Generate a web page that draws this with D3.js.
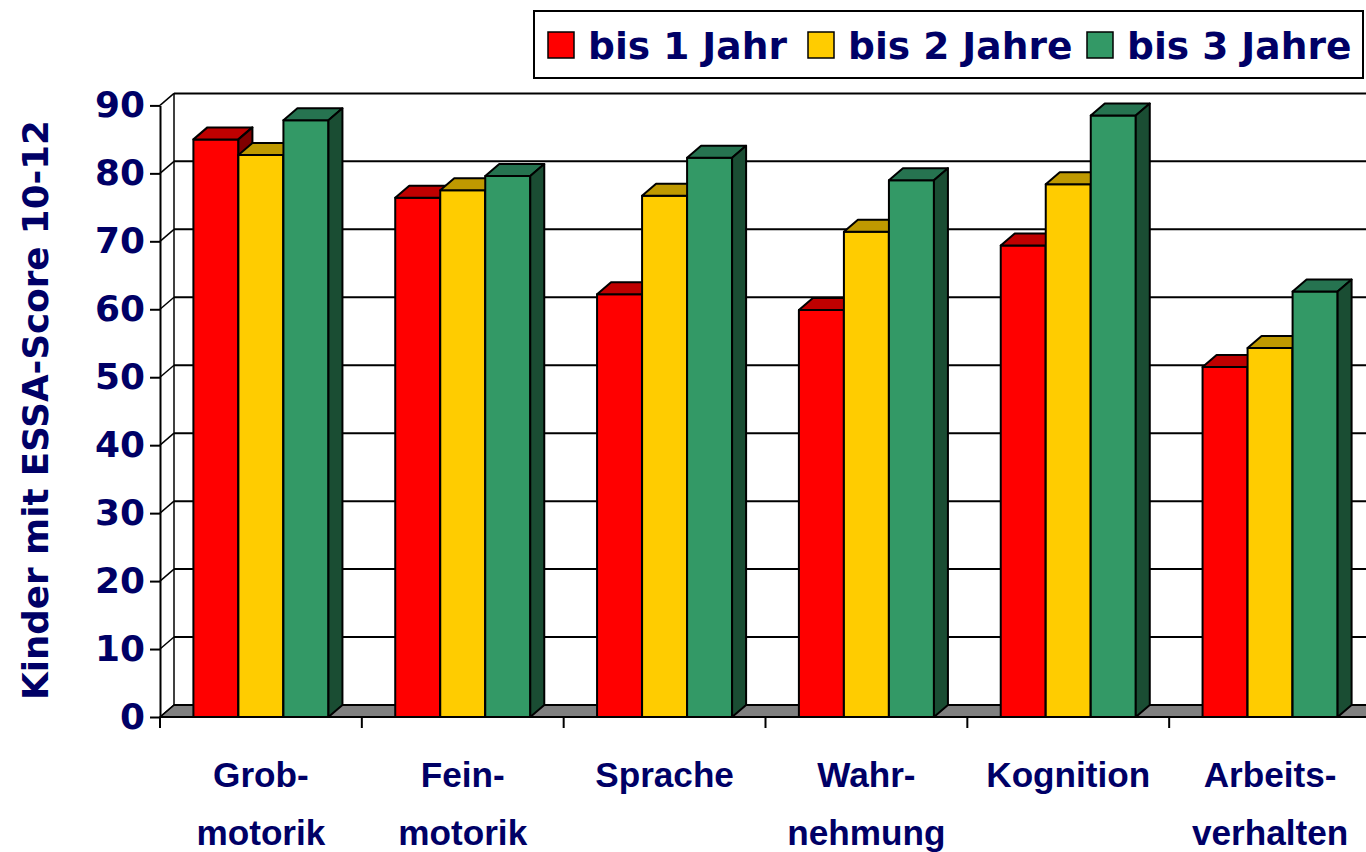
<!DOCTYPE html>
<html>
<head>
<meta charset="utf-8">
<script src="https://cdn.jsdelivr.net/npm/d3@7"></script>
<style>
  html, body { margin: 0; padding: 0; background: #fff; overflow: hidden; }
  svg { display: block; }
  text { font-family: "Comic Sans MS", "DejaVu Sans", sans-serif; font-weight: bold; fill: #000066; }
  text.xlab { font-family: "Comic Sans MS", "Liberation Sans", sans-serif; }
</style>
</head>
<body>
<svg id="chart" width="1366" height="852"></svg>
<script>
// ---- data ----
const categories = [["Grob-", "motorik"], ["Fein-", "motorik"], ["Sprache"], ["Wahr-", "nehmung"], ["Kognition"], ["Arbeits-", "verhalten"]];
const seriesNames = ["bis 1 Jahr", "bis 2 Jahre", "bis 3 Jahre"];
const bis1Jahr = [85.0, 76.4, 62.2, 59.9, 69.4, 51.5];
const bis2Jahre = [82.7, 77.5, 76.7, 71.4, 78.4, 54.3];
const bis3Jahre = [87.8, 79.6, 82.3, 79.0, 88.5, 62.6];
const yTicks = [0, 10, 20, 30, 40, 50, 60, 70, 80, 90];
const yTitle = "Kinder mit ESSA-Score 10-12";

// ---- styles ----
const seriesColors = [
  { front: "#FF0000", top: "#BF0000", side: "#800000" },
  { front: "#FFCC00", top: "#BF9900", side: "#806600" },
  { front: "#339966", top: "#267350", side: "#1A4D33" }
];
const seriesValues = [bis1Jahr, bis2Jahre, bis3Jahre];

const svg = d3.select("#chart");
const x0 = 160, xEnd = 1371;
const dx = 14, dy = 12;

const y = d3.scaleLinear().domain([0, 90]).range([717, 105.4]);
const xCat = d3.scaleBand().domain(d3.range(categories.length)).range([x0, xEnd]).paddingInner(0).paddingOuter(0);
const xSer = d3.scaleBand().domain(d3.range(seriesNames.length)).range([0, xCat.bandwidth()]).paddingInner(0).paddingOuter(0.742);

function fitText(sel, target) {
  const node = sel.node();
  sel.style("font-size", "100px");
  const w = node.getComputedTextLength();
  const fs = 100 * target / w;
  sel.style("font-size", fs + "px");
  return fs;
}

// ---- floor ----
svg.append("path")
  .attr("d", `M${x0},${y(0)} L${x0 + dx},${y(0) - dy} L${xEnd + dx},${y(0) - dy} L${xEnd},${y(0)} Z`)
  .attr("fill", "#808080").attr("stroke", "#000").attr("stroke-width", 1.5);

// ---- back wall gridlines ----
const grid = svg.append("g");
yTicks.forEach(v => {
  grid.append("line")
    .attr("x1", x0 + dx).attr("x2", xEnd + dx)
    .attr("y1", y(v) - dy).attr("y2", y(v) - dy)
    .attr("stroke", "#000").attr("stroke-width", 2);
  grid.append("line")
    .attr("x1", x0).attr("x2", x0 + dx)
    .attr("y1", y(v)).attr("y2", y(v) - dy)
    .attr("stroke", "#000").attr("stroke-width", 1.5);
});
grid.append("line")
  .attr("x1", x0 + dx).attr("x2", x0 + dx)
  .attr("y1", y(90) - dy).attr("y2", y(0) - dy)
  .attr("stroke", "#000").attr("stroke-width", 1.5);

// ---- bars ----
const bars = svg.append("g");
categories.forEach((c, ci) => {
  seriesValues.forEach((vals, si) => {
    const v = vals[ci];
    const xl = xCat(ci) + xSer(si);
    const w = xSer.bandwidth();
    const yt = y(v), yb = y(0);
    const col = seriesColors[si];
    const g = bars.append("g").attr("stroke", "#000").attr("stroke-width", 2).attr("stroke-linejoin", "round");
    g.append("rect").attr("x", xl).attr("y", yt).attr("width", w).attr("height", yb - yt).attr("fill", col.front);
    g.append("path")
      .attr("d", `M${xl},${yt} L${xl + dx},${yt - dy} L${xl + w + dx},${yt - dy} L${xl + w},${yt} Z`)
      .attr("fill", col.top);
    g.append("path")
      .attr("d", `M${xl + w},${yt} L${xl + w + dx},${yt - dy} L${xl + w + dx},${yb - dy} L${xl + w},${yb} Z`)
      .attr("fill", col.side);
  });
});

// ---- y axis ----
const yAxis = svg.append("g")
  .attr("transform", `translate(${x0},0)`)
  .call(d3.axisLeft(y).tickValues(yTicks).tickSize(10).tickSizeOuter(0).tickPadding(5));
yAxis.select(".domain").attr("stroke", "#000").attr("stroke-width", 2);
yAxis.selectAll(".tick line").attr("stroke", "#000").attr("stroke-width", 2);
const yLabels = yAxis.selectAll(".tick text").attr("fill", "#000066").attr("font-family", null);
const yfs = fitText(yAxis.select(".tick:last-of-type text"), 50);
yLabels.style("font-size", yfs + "px");

// ---- x axis ----
const xAxisG = svg.append("g");
xAxisG.append("line").attr("x1", x0).attr("x2", xEnd).attr("y1", y(0)).attr("y2", y(0))
  .attr("stroke", "#000").attr("stroke-width", 2);
d3.range(categories.length + 1).forEach(i => {
  const xx = i < categories.length ? xCat(i) : xEnd;
  xAxisG.append("line").attr("x1", xx).attr("x2", xx).attr("y1", y(0)).attr("y2", y(0) + 11)
    .attr("stroke", "#000").attr("stroke-width", 2);
});
const xLabelG = svg.append("g");
const probe = xLabelG.append("text").attr("class", "xlab").text("Kognition");
const xfs = fitText(probe, 164);
probe.remove();
categories.forEach((lines, ci) => {
  const cx = xCat(ci) + xCat.bandwidth() / 2;
  lines.forEach((ln, li) => {
    xLabelG.append("text")
      .attr("class", "xlab")
      .attr("x", cx).attr("y", 787 + li * 58)
      .attr("text-anchor", "middle")
      .style("font-size", xfs + "px")
      .text(ln);
  });
});

// ---- y title ----
const yt = svg.append("text")
  .attr("transform", "translate(35,410) rotate(-90)")
  .attr("text-anchor", "middle")
  .attr("dy", "0.36em")
  .text(yTitle);
fitText(yt, 580);

// ---- legend ----
const leg = svg.append("g");
leg.append("rect").attr("x", 534).attr("y", 11).attr("width", 829).attr("height", 67)
  .attr("fill", "#fff").attr("stroke", "#000").attr("stroke-width", 2);
const legSwatchX = [548, 808, 1087];
const legTextW = [199, 219, 221];
let legFs = null;
seriesNames.forEach((name, i) => {
  leg.append("rect").attr("x", legSwatchX[i]).attr("y", 32).attr("width", 26).attr("height", 26)
    .attr("fill", seriesColors[i].front).attr("stroke", "#000").attr("stroke-width", 1.5);
  const t = leg.append("text").attr("x", legSwatchX[i] + 40).attr("y", 45).attr("dy", "0.36em").text(name);
  if (legFs === null) legFs = fitText(t, legTextW[i]);
  else t.style("font-size", legFs + "px");
});
</script>
</body>
</html>
